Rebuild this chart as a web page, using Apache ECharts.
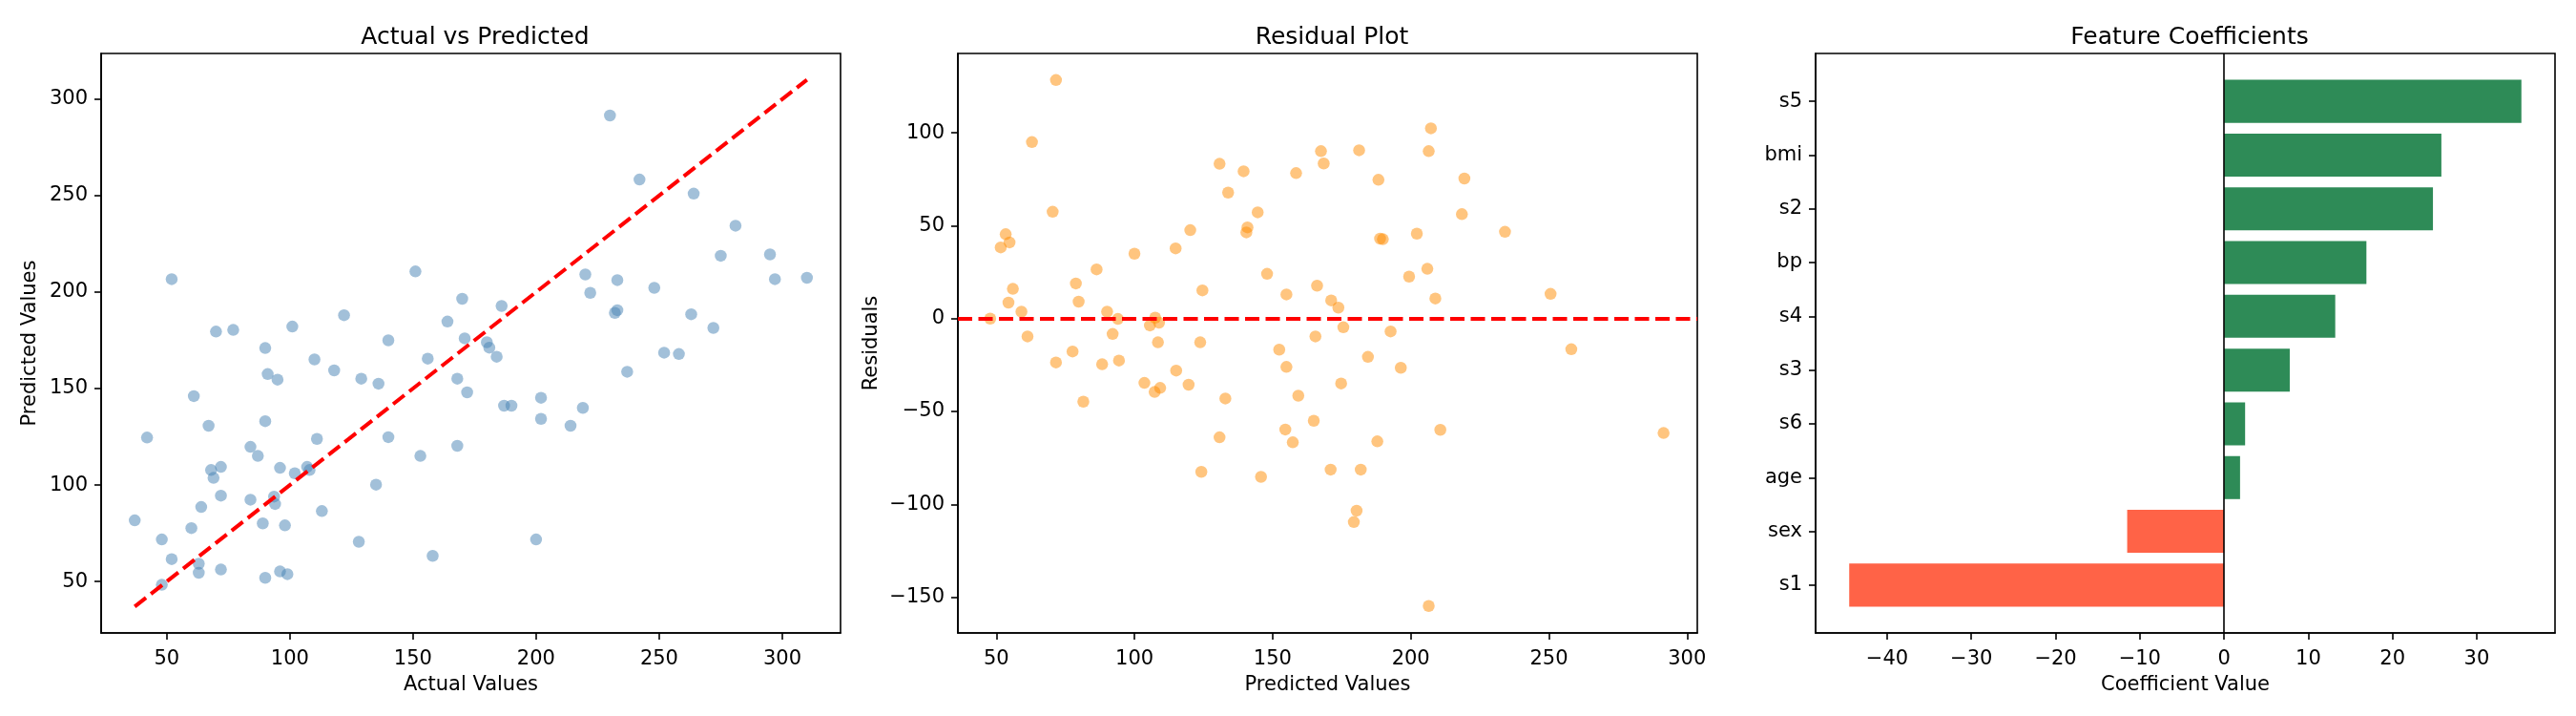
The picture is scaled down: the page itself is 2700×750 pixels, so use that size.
<!DOCTYPE html>
<html>
<head>
<meta charset="utf-8">
<title>Regression diagnostics</title>
<script src="https://cdn.jsdelivr.net/npm/echarts@6.0.0/dist/echarts.min.js"></script>
<style>
    html, body {margin: 0; padding: 0; background: #fff;}
    #main {width: 2700px; height: 750px;}
</style>
</head>
<body>
<div id="main"></div>
<script>
'use strict';

// --- data ---
// Actual vs Predicted
const actualValues = [37, 42, 48, 48, 52, 52, 61, 60, 63, 63, 64, 67, 68, 69, 70, 72, 72, 72, 77, 84,
    84, 87, 89, 90, 90, 90, 91, 93.6, 94, 95, 96, 96, 98, 99, 101, 102, 107, 108, 110, 111,
    113, 118, 122, 128, 129, 135, 136, 140, 140, 151, 153, 156, 158, 164, 168, 168, 170, 171, 172, 180,
    181, 184, 186, 187, 190, 200, 202, 202, 214, 219, 220, 222, 230, 232, 233, 233, 237, 242, 248, 252,
    258, 263, 264, 272, 275, 281, 295, 297, 310];
const predictedValues = [81.7, 124.6, 71.8, 48.3, 206.7, 61.6, 146.1, 77.7, 59.2, 54.5, 88.6, 130.7, 107.8, 103.7, 179.5, 109.4, 94.5, 56.2, 180.4, 119.8,
    92.4, 115.1, 80.1, 171, 133.1, 51.9, 157.5, 94, 90.2, 154.6, 108.9, 55.2, 79.1, 53.8, 182.1, 106.1, 109.4, 107.8, 165.1, 123.9,
    86.5, 159.4, 188, 70.6, 155.1, 100.2, 152.5, 175, 124.8, 210.7, 115.1, 165.5, 63.3, 184.7, 155.1, 120.3, 196.5, 176, 148, 174,
    171.2, 166.5, 192.8, 141.1, 141.1, 71.8, 145.2, 134.3, 130.7, 140, 209.1, 199.6, 291.5, 189.2, 190.6, 206.2, 158.7, 258.3, 202.2, 168.6,
    167.9, 188.5, 251, 181.4, 218.8, 234.4, 219.5, 206.7, 207.4];
const identityLine = [37, 310];

// Residual plot
const residPredicted = [47.8, 51.6, 53.4, 54.8, 54.4, 56, 59.1, 61.3, 62.9, 70.4, 71.6, 71.6, 77.6, 78.8, 79.8, 81.5, 86.3, 88.3, 90.1, 92.1,
    94, 94.4, 100, 103.6, 105.6, 107.3, 107.5, 108.5, 108.9, 109.3, 114.9, 115.1, 119.6, 120.2, 123.8, 124.2, 124.6, 130.8, 130.8, 132.9,
    133.9, 139.5, 140.5, 140.9, 144.6, 145.8, 148, 152.4, 154.6, 155, 155, 157.3, 158.5, 159.3, 164.9, 165.5, 166.1, 167.5, 168.5, 171,
    171.2, 173.8, 174.8, 175.6, 179.4, 180.4, 181.3, 181.9, 184.5, 187.9, 188.3, 188.9, 189.9, 192.7, 196.4, 199.4, 202.2, 206, 206.5, 206.5,
    207.3, 208.9, 210.7, 218.5, 219.4, 234.1, 250.6, 258.1, 291.5];
const residuals = [0, 38.3, 45.4, 41, 8.6, 16, 3.7, -9.6, 95, 57.5, 128.4, -23.6, -17.7, 18.9, 9.1, -44.7, 26.5, -24.6, 3.7, -8.3,
    -0.2, -22.6, 34.9, -34.6, -3.7, -39.5, 0.5, -12.8, -2.2, -37.3, 37.8, -28, -35.6, 47.6, -12.8, -82.5, 15.2, 83.3, -63.9, -43,
    67.8, 79.3, 46.4, 49.1, 57.2, -85.2, 24.1, -16.7, -59.7, -26, 13, -66.6, 78.3, -41.5, -55, -9.6, 17.7, 90.1, 83.5, -81.3,
    9.8, 5.9, -34.9, -4.7, -109.5, -103.4, 90.6, -81.3, -20.6, -66.1, 74.7, 43, 42.7, -6.9, -26.5, 22.6, 45.7, 26.8, -154.7, 90.1,
    102.4, 10.8, -59.9, 56.2, 75.4, 46.7, 13.3, -16.5, -61.6];

// Feature coefficients (bottom to top)
const featureNames = ['s1', 'sex', 'age', 's6', 's3', 's4', 'bp', 's2', 'bmi', 's5'];
const coefValues = [-44.5, -11.5, 1.9, 2.5, 7.8, 13.2, 16.9, 24.8, 25.8, 35.3];

// tick labels
const scatterTicks = [50, 100, 150, 200, 250, 300];
const residTicks = [-150, -100, -50, 0, 50, 100];
const coefTicks = [-40, -30, -20, -10, 0, 10, 20, 30];
const featureTicks = [0, 1, 2, 3, 4, 5, 6, 7, 8, 9];

const FONT = 'DejaVu Sans';
const minus = v => String(v).replace('-', '\u2212');

// frame + ticks like matplotlib
function axis(gridIndex, min, max, ticks, name, nameGap, margin, formatter) {
    return {
        type: 'value',
        gridIndex: gridIndex,
        min: min,
        max: max,
        name: name,
        nameLocation: 'middle',
        nameGap: nameGap,
        nameTextStyle: {fontSize: 21, color: '#000', fontFamily: FONT},
        splitLine: {show: false},
        axisLine: {show: true, onZero: false, lineStyle: {color: '#000', width: 1.6}},
        axisTick: {show: true, length: 7, customValues: ticks, lineStyle: {color: '#000', width: 1.6}},
        axisLabel: {
            customValues: ticks,
            fontSize: 21,
            color: '#000',
            fontFamily: FONT,
            margin: margin,
            formatter: formatter || minus
        }
    };
}

const chart = echarts.init(document.getElementById('main'), null, {renderer: 'canvas'});

const titleStyle = {fontSize: 25, fontWeight: 'normal', color: '#000', fontFamily: FONT};

chart.setOption({
    animation: false,
    backgroundColor: '#fff',
    textStyle: {fontFamily: FONT},
    title: [
        {text: 'Actual vs Predicted', left: 493, top: 22, textAlign: 'center', textStyle: titleStyle},
        {text: 'Residual Plot', left: 1391, top: 22, textAlign: 'center', textStyle: titleStyle},
        {text: 'Feature Coefficients', left: 2290, top: 22, textAlign: 'center', textStyle: titleStyle}
    ],
    grid: [
        {left: 106, top: 56, width: 775, height: 607, show: true, borderColor: '#000', borderWidth: 1.6, backgroundColor: 'transparent'},
        {left: 1004, top: 56, width: 775, height: 607, show: true, borderColor: '#000', borderWidth: 1.6, backgroundColor: 'transparent'},
        {left: 1903, top: 56, width: 775, height: 607, show: true, borderColor: '#000', borderWidth: 1.6, backgroundColor: 'transparent'}
    ],
    xAxis: [
        axis(0, 23.35, 323.65, scatterTicks, 'Actual Values', 44, 17),
        axis(1, 36.1, 303.7, scatterTicks, 'Predicted Values', 44, 17),
        axis(2, -48.49, 39.29, coefTicks, 'Coefficient Value', 44, 17)
    ],
    yAxis: [
        axis(0, 23.35, 323.65, scatterTicks, 'Predicted Values', 64, 14),
        axis(1, -169.2, 142.7, residTicks, 'Residuals', 80, 14),
        axis(2, -0.89, 9.89, featureTicks, '', 0, 14, v => featureNames[v])
    ],
    series: [
        {
            type: 'scatter',
            xAxisIndex: 0,
            yAxisIndex: 0,
            symbolSize: 12.5,
            itemStyle: {color: '#4682B4', opacity: 0.5},
            emphasis: {disabled: true},
            data: actualValues.map((a, i) => [a, predictedValues[i]])
        },
        {
            type: 'line',
            xAxisIndex: 0,
            yAxisIndex: 0,
            symbol: 'none',
            lineStyle: {color: '#ff0000', width: 4, type: [15, 6.5]},
            data: [[identityLine[0], identityLine[0]], [identityLine[1], identityLine[1]]]
        },
        {
            type: 'scatter',
            xAxisIndex: 1,
            yAxisIndex: 1,
            symbolSize: 12.5,
            itemStyle: {color: '#FF8C00', opacity: 0.5},
            emphasis: {disabled: true},
            data: residPredicted.map((p, i) => [p, residuals[i]]),
            markLine: {
                silent: true,
                symbol: 'none',
                label: {show: false},
                lineStyle: {color: '#ff0000', width: 4, type: [15, 6.5]},
                data: [{yAxis: 0}]
            }
        },
        {
            type: 'custom',
            xAxisIndex: 2,
            yAxisIndex: 2,
            encode: {x: 0, y: 1},
            data: coefValues.map((v, i) => [v, i]),
            renderItem: function (params, api) {
                const v = api.value(0), i = api.value(1);
                const p0 = api.coord([0, i + 0.4]);
                const p1 = api.coord([v, i - 0.4]);
                return {
                    type: 'rect',
                    shape: {
                        x: Math.min(p0[0], p1[0]),
                        y: p0[1],
                        width: Math.abs(p1[0] - p0[0]),
                        height: p1[1] - p0[1]
                    },
                    style: {fill: v < 0 ? '#FF6347' : '#2E8B57'}
                };
            },
            markLine: {
                silent: true,
                symbol: 'none',
                label: {show: false},
                lineStyle: {color: '#000', width: 1.6, type: 'solid'},
                data: [{xAxis: 0}]
            }
        }
    ]
});
</script>
</body>
</html>
